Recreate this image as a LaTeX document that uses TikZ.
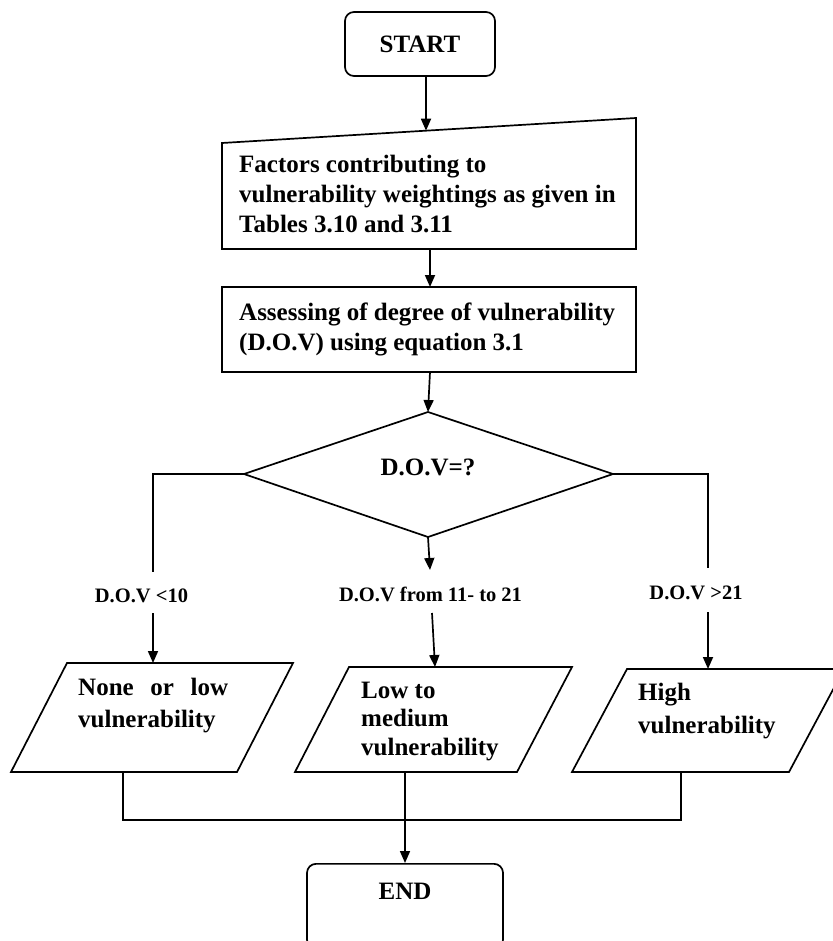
\documentclass[tikz,border=0pt]{standalone}
\usepackage{fontspec}
\setmainfont{Liberation Serif}
\usetikzlibrary{arrows.meta}
\begin{document}
\begin{tikzpicture}[x=1pt,y=-1pt,
  line/.style={line width=1.7pt, line join=miter},
  arr/.style={line, -{Triangle[length=12pt,width=10pt]}},
  txt/.style={font=\fontsize{25}{30}\selectfont\bfseries, inner sep=0pt, align=left},
  lbl/.style={font=\fontsize{20.5}{24}\selectfont\bfseries, inner sep=0pt},
  rbox/.style={line, draw, rounded corners=9pt, inner sep=0pt}
]
\useasboundingbox (0,0) rectangle (832,941);

% terminal boxes
\node[rbox, txt, minimum width=150pt, minimum height=64pt] (start) at (420,44) {START};
\node[rbox, txt, anchor=north, minimum width=196pt, inner ysep=19pt,
      text height=17pt, text depth=30pt] (end) at (405,863) {END};

% manual input: factors (multi-line nodes: base = last baseline)
\coordinate (fTL) at (222,143); \coordinate (fTR) at (636,118);
\coordinate (fBR) at (636,249); \coordinate (fBL) at (222,249);
\draw[line] (fTL) -- (fTR) -- (fBR) -- (fBL) -- cycle;
\node[txt, anchor=base west] (factors) at (239,233)
  {Factors contributing to\\vulnerability weightings as given in\\Tables 3.10 and 3.11};

% process: assessment
\coordinate (aTL) at (222,287); \coordinate (aBR) at (636,372);
\draw[line] (aTL) rectangle (aBR);
\node[txt, anchor=base west] (assess) at (239,350)
  {Assessing of degree of vulnerability\\(D.O.V) using equation 3.1};

% decision
\coordinate (dT) at (428,412); \coordinate (dR) at (613,474);
\coordinate (dB) at (428,537); \coordinate (dL) at (244,474);
\draw[line] (dT) -- (dR) -- (dB) -- (dL) -- cycle;
\node[txt, anchor=base] (dov) at (428,475) {D.O.V=?};

% branch labels
\node[lbl, anchor=base] (l1) at (141.5,602) {D.O.V <10};
\node[lbl, anchor=base] (l2) at (430.5,601) {D.O.V from 11- to 21};
\node[lbl, anchor=base] (l3) at (696,599) {D.O.V >21};

% outcome parallelograms
\coordinate (p1a) at (67,663);  \coordinate (p1b) at (293,663);
\coordinate (p1c) at (237,772); \coordinate (p1d) at (11,772);
\draw[line] (p1a) -- (p1b) -- (p1c) -- (p1d) -- cycle;
\coordinate (p2a) at (349,667); \coordinate (p2b) at (572,667);
\coordinate (p2c) at (517,772); \coordinate (p2d) at (295,772);
\draw[line] (p2a) -- (p2b) -- (p2c) -- (p2d) -- cycle;
\coordinate (p3a) at (627,669); \coordinate (p3b) at (844,669);
\coordinate (p3c) at (789,772); \coordinate (p3d) at (572,772);
\draw[line] (p3a) -- (p3b) -- (p3c) -- (p3d) -- cycle;

\node[txt, anchor=base west] (o1) at (78,727)
  {\makebox[150pt][s]{None\hfill or\hfill low}\\[2pt]vulnerability};
\node[txt, anchor=base west, font=\fontsize{25}{28.5}\selectfont\bfseries] (o2) at (361,755)
  {Low to\\medium\\vulnerability};
\node[txt, anchor=base west, font=\fontsize{25}{33}\selectfont\bfseries] (o3) at (638,733)
  {High\\vulnerability};

% connector points
\coordinate (s1) at (426,76);  \coordinate (s2) at (426,130.7);
\coordinate (f1) at (430,249); \coordinate (f2) at (430,287);
\coordinate (a1) at (430,372);
\coordinate (m1) at (430,570);
\coordinate (lc) at (153,474); \coordinate (le) at (153,572);
\coordinate (rc) at (708,474); \coordinate (re) at (708,568);
\coordinate (q1) at (153,613); \coordinate (q1e) at (153,663);
\coordinate (q2) at (432,613); \coordinate (q2e) at (435,667);
\coordinate (q3) at (708,612); \coordinate (q3e) at (708,669);
\coordinate (b1) at (123,772); \coordinate (b1e) at (123,820);
\coordinate (b3) at (681,772); \coordinate (b3e) at (681,820);
\coordinate (b2) at (405,772);

% connectors
\draw[arr] (s1) -- (s2);
\draw[arr] (f1) -- (f2);
\draw[arr] (a1) -- (dT);
\draw[arr] (dB) -- (m1);
\draw[line] (dL) -- (lc) -- (le);
\draw[line] (dR) -- (rc) -- (re);
\draw[arr] (q1) -- (q1e);
\draw[arr] (q2) -- (q2e);
\draw[arr] (q3) -- (q3e);
\draw[line] (b1) -- (b1e) -- (b3e) -- (b3);
\draw[arr] (b2) -- (end.north);
\end{tikzpicture}
\end{document}
